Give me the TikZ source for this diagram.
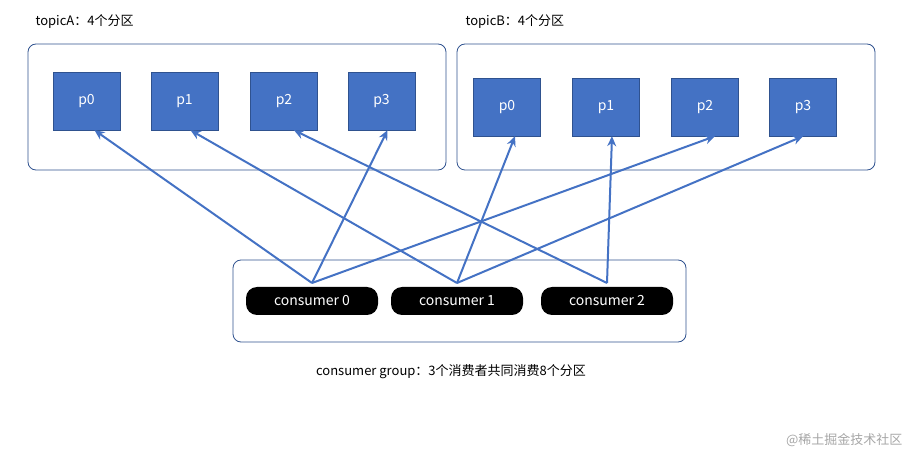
\documentclass[tikz,border=0pt]{standalone}
\usepackage{fontspec}
\setmainfont{Noto Sans CJK SC}
\usetikzlibrary{arrows.meta}
\definecolor{pb}{HTML}{4472C4}
\definecolor{bd}{HTML}{2F528F}
\begin{document}
\begin{tikzpicture}[x=1pt,y=-1pt,
  grp/.style={draw=bd,line width=0.8pt,rounded corners=8pt},
  part/.style={draw=bd,fill=pb,text=white,minimum width=67pt,minimum height=58pt,inner sep=0,font=\fontsize{14}{16}\selectfont},
  cons/.style={fill=black,text=white,rounded corners=11pt,minimum width=132pt,minimum height=28pt,inner sep=0,font=\fontsize{14}{16}\selectfont},
  lab/.style={font=\fontsize{13}{15}\selectfont,anchor=west},
  arr/.style={draw=pb,line width=2pt,-{Stealth[length=10pt,width=9pt]}}]
\useasboundingbox (0,0) rectangle (911,457);
\draw[grp] (28,44) rectangle (446,170);
\draw[grp] (457,44) rectangle (875,170);
\draw[grp] (233,260) rectangle (686,342);
\node[lab] (la) at (32,22) {topicA：4个分区};
\node[lab] (lb) at (462,22) {topicB：4个分区};
\node[font=\fontsize{13}{15}\selectfont] (lc) at (451,372) {consumer group：3个消费者共同消费8个分区};
\node[font=\fontsize{13}{15}\selectfont,text=black!35,anchor=east] (wm) at (906,440) {@稀土掘金技术社区};
\node[part] (a0) at (86.5,101) {p0};
\node[part] (a1) at (184.5,101) {p1};
\node[part] (a2) at (284,101) {p2};
\node[part] (a3) at (381.5,101) {p3};
\node[part] (b0) at (507,107) {p0};
\node[part] (b1) at (606,107) {p1};
\node[part] (b2) at (705,107) {p2};
\node[part] (b3) at (803,107) {p3};
\node[cons] (c0) at (312,301) {consumer 0};
\node[cons] (c1) at (457,301) {consumer 1};
\node[cons] (c2) at (607,301) {consumer 2};
\coordinate (s0) at (312,283);
\coordinate (s1) at (457,283);
\coordinate (s2) at (607,283);
\draw[arr] (s0) -- ([xshift=8pt]a0.south);
\draw[arr] (s0) -- ([xshift=6pt]a3.south);
\draw[arr] (s0) -- ([xshift=10pt]b2.south);
\draw[arr] (s1) -- ([xshift=6pt]a1.south);
\draw[arr] (s1) -- ([xshift=8pt]b0.south);
\draw[arr] (s1) -- (b3.south);
\draw[arr] (s2) -- ([xshift=10pt]a2.south);
\draw[arr] (s2) -- ([xshift=6pt]b1.south);
\end{tikzpicture}
\end{document}
